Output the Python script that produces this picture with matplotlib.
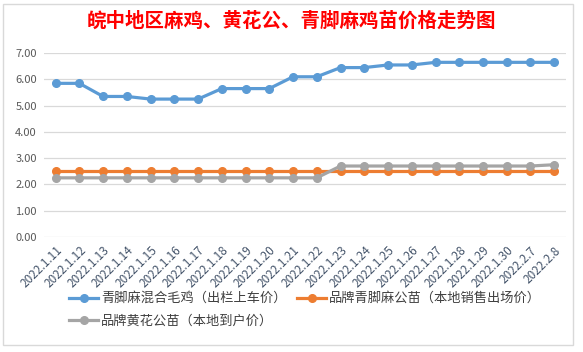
import matplotlib
matplotlib.use("Agg")
import matplotlib.pyplot as plt
from matplotlib.patches import Rectangle

plt.rcParams['font.family'] = ['Noto Sans CJK SC', 'DejaVu Sans']

dates = ['2022.1.11', '2022.1.12', '2022.1.13', '2022.1.14', '2022.1.15', '2022.1.16',
         '2022.1.17', '2022.1.18', '2022.1.19', '2022.1.20', '2022.1.21', '2022.1.22',
         '2022.1.23', '2022.1.24', '2022.1.25', '2022.1.26', '2022.1.27', '2022.1.28',
         '2022.1.29', '2022.1.30', '2022.2.7', '2022.2.8']

mixed = [5.85, 5.85, 5.35, 5.35, 5.25, 5.25, 5.25, 5.65, 5.65, 5.65, 6.1, 6.1,
         6.45, 6.45, 6.55, 6.55, 6.65, 6.65, 6.65, 6.65, 6.65, 6.65]
qjm_cock = [2.5] * 22
hh_cock = [2.25, 2.25, 2.25, 2.25, 2.25, 2.25, 2.25, 2.25, 2.25, 2.25, 2.25, 2.25,
           2.7, 2.7, 2.7, 2.7, 2.7, 2.7, 2.7, 2.7, 2.7, 2.75]

names = ['青脚麻混合毛鸡（出栏上车价）', '品牌青脚麻公苗（本地销售出场价）', '品牌黄花公苗（本地到户价）']
colors = ['#5B9BD5', '#ED7D31', '#A5A5A5']

fig = plt.figure(figsize=(5.83, 3.52), dpi=100)
ax = fig.add_axes([0.075, 0.327, 0.896, 0.522])

x = range(len(dates))
lines = []
for vals, name, c in zip([mixed, qjm_cock, hh_cock], names, colors):
    ln, = ax.plot(x, vals, color=c, lw=2.3, marker='o', ms=5.5, label=name)
    lines.append(ln)

ax.set_xlim(-0.5, len(dates) - 0.5)
ax.set_ylim(0, 7)
ax.set_yticks(range(8))
ax.set_yticklabels(['%.2f' % v for v in range(8)])
ax.set_xticks(list(x))
ax.set_xticklabels(dates, rotation=45, ha='right', rotation_mode='anchor')
ax.tick_params(length=0, labelsize=8, colors='#595959', pad=5)
ax.tick_params(axis='x', labelsize=8.5, colors='#44546A')
ax.grid(axis='y', color='#D9D9D9', lw=0.9)
ax.set_axisbelow(True)
for s in ax.spines.values():
    s.set_visible(False)

fig.text(0.5, 0.94, '皖中地区麻鸡、黄花公、青脚麻鸡苗价格走势图', color='red',
         fontsize=14, fontweight='bold', ha='center', va='center')

# row-major order like the original: blue, orange / gray
order = [0, 2, 1]
fig.legend([lines[i] for i in order], [names[i] for i in order],
           loc='upper left', bbox_to_anchor=(0.11, 0.185), ncol=2, frameon=False,
           fontsize=9.5, labelcolor='#404040', handlelength=2.2, columnspacing=0.8,
           handletextpad=0.2, borderaxespad=0, labelspacing=0.75)

fig.patches.append(Rectangle((0.006, 0.02), 0.977, 0.97, transform=fig.transFigure,
                             fill=False, ec='#D9D9D9', lw=1))

fig.savefig('out.png', dpi=100)
